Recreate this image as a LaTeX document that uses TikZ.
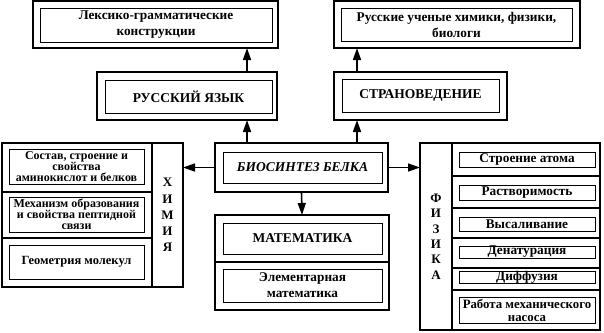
\documentclass[tikz,border=0pt]{standalone}
\usepackage{fontspec}
\setmainfont{Liberation Serif}
\usetikzlibrary{arrows.meta}

\begin{document}
\begin{tikzpicture}[x=1pt,y=-1pt,font=\bfseries\fontsize{13.3}{15}\selectfont,
  frame/.style={draw,line width=2pt,inner sep=0pt,outer sep=0pt},
  label/.style={draw,line width=0.8pt,inner sep=0pt,outer sep=0pt,align=center},
  caps/.style={font=\bfseries\fontsize{13.5}{15}\selectfont},
  twoline/.style={font=\bfseries\fontsize{13.3}{16}\selectfont},
  small/.style={font=\bfseries\fontsize{12}{11}\selectfont},
  arr/.style={line width=1.6pt,-{Triangle[length=12pt,width=8pt]}}]
\useasboundingbox (0,0) rectangle (604,332);
%
% Russian language
\node[frame,minimum width=245pt,minimum height=47pt] (lexbox) at (155.5,24.5) {};
\node[label,twoline,minimum width=232pt,minimum height=34pt] (lexin) at (156,25) {Лексико-грамматические\\конструкции};
\node[frame,minimum width=180pt,minimum height=48pt] (rusbox) at (187,96) {};
\node[label,caps,minimum width=167pt,minimum height=33pt] (rusin) at (188.5,96.5) {РУССКИЙ ЯЗЫК};
%
% Country studies
\node[frame,minimum width=246pt,minimum height=47pt] (scibox) at (457,24.5) {};
\node[label,twoline,minimum width=231pt,minimum height=33pt] (sciin) at (456.5,24.5) {Русские ученые химики, физики,\\биологи};
\node[frame,minimum width=173pt,minimum height=48pt] (stranbox) at (420.5,96) {};
\node[label,caps,minimum width=157pt,minimum height=33pt] (stranin) at (420.5,95.5) {СТРАНОВЕДЕНИЕ};
%
% Biosynthesis
\node[frame,minimum width=173pt,minimum height=49pt] (biobox) at (301.5,167.5) {};
\node[label,minimum width=159pt,minimum height=31pt,font=\bfseries\itshape\fontsize{13.5}{15}\selectfont] (bioin) at (302.5,167.5) {БИОСИНТЕЗ БЕЛКА};
%
% Mathematics
\node[frame,minimum width=174pt,minimum height=47pt] (mathbox) at (302,238.5) {};
\node[frame,minimum width=174pt,minimum height=48pt] (elembox) at (302,286) {};
\node[label,caps,minimum width=159pt,minimum height=31pt] (mathin) at (302.5,238.5) {МАТЕМАТИКА};
\node[label,twoline,minimum width=159pt,minimum height=33pt] (elemin) at (302.5,285.5) {Элементарная\\математика};
%
% Chemistry
\node[frame,minimum width=150pt,minimum height=49pt] (chemrow1) at (77,167.5) {};
\node[frame,minimum width=150pt,minimum height=46pt] (chemrow2) at (77,215) {};
\node[frame,minimum width=150pt,minimum height=49pt] (chemrow3) at (77,262.5) {};
\node[frame,minimum width=31pt,minimum height=144pt,align=center,font=\bfseries\fontsize{13}{16.25}\selectfont] (chemcol) at (167.5,215) {Х\\И\\М\\И\\Я};
\node[label,small,minimum width=135pt,minimum height=35pt] (chemin1) at (76.5,166.5) {Состав, строение и\\свойства\\аминокислот и белков};
\node[label,small,minimum width=135pt,minimum height=35pt] (chemin2) at (76.5,214.5) {Механизм образования\\и свойства пептидной\\связи};
\node[label,minimum width=135pt,minimum height=34pt,font=\bfseries\fontsize{12.5}{15}\selectfont] (chemin3) at (76.5,262) {Геометрия молекул};
%
% Physics
\node[frame,minimum width=32pt,minimum height=187pt,align=center,font=\bfseries\fontsize{13}{15.4}\selectfont] (physcol) at (436,236.5) {Ф\\И\\З\\И\\К\\А};
\node[frame,minimum width=148pt,minimum height=33pt] (physrow1) at (526,159.5) {};
\node[frame,minimum width=148pt,minimum height=32pt] (physrow2) at (526,192) {};
\node[frame,minimum width=148pt,minimum height=30pt] (physrow3) at (526,223) {};
\node[frame,minimum width=148pt,minimum height=30pt] (physrow4) at (526,253) {};
\node[frame,minimum width=148pt,minimum height=22pt] (physrow5) at (526,279) {};
\node[frame,minimum width=148pt,minimum height=40pt] (physrow6) at (526,310) {};
\node[label,minimum width=136pt,minimum height=15pt] (physin1) at (527,159.5) {Строение атома};
\node[label,minimum width=136pt,minimum height=15pt] (physin2) at (527,192.5) {Растворимость};
\node[label,minimum width=136pt,minimum height=14pt] (physin3) at (527,224) {Высаливание};
\node[label,minimum width=136pt,minimum height=12pt] (physin4) at (527,252) {Денатурация};
\node[label,minimum width=136pt,minimum height=12pt] (physin5) at (527,277) {Диффузия};
\node[label,minimum width=136pt,minimum height=26pt,font=\bfseries\fontsize{12.8}{13}\selectfont] (physin6) at (527,310) {Работа механического\\насоса};
%
% Arrows
\coordinate (ruscol) at (247,0);
\coordinate (strancol) at (357,0);
\draw[arr] (rusbox.north -| ruscol) -- (lexbox.south -| ruscol);
\draw[arr] (biobox.north -| ruscol) -- (rusbox.south -| ruscol);
\draw[arr] (stranbox.north -| strancol) -- (scibox.south -| strancol);
\draw[arr] (biobox.north -| strancol) -- (stranbox.south -| strancol);
\draw[arr] (biobox.west) -- (biobox.west -| chemcol.east);
\draw[arr] (biobox.east) -- (biobox.east -| physcol.west);
\draw[arr] (biobox.south) -- (mathbox.north);
\end{tikzpicture}
\end{document}
